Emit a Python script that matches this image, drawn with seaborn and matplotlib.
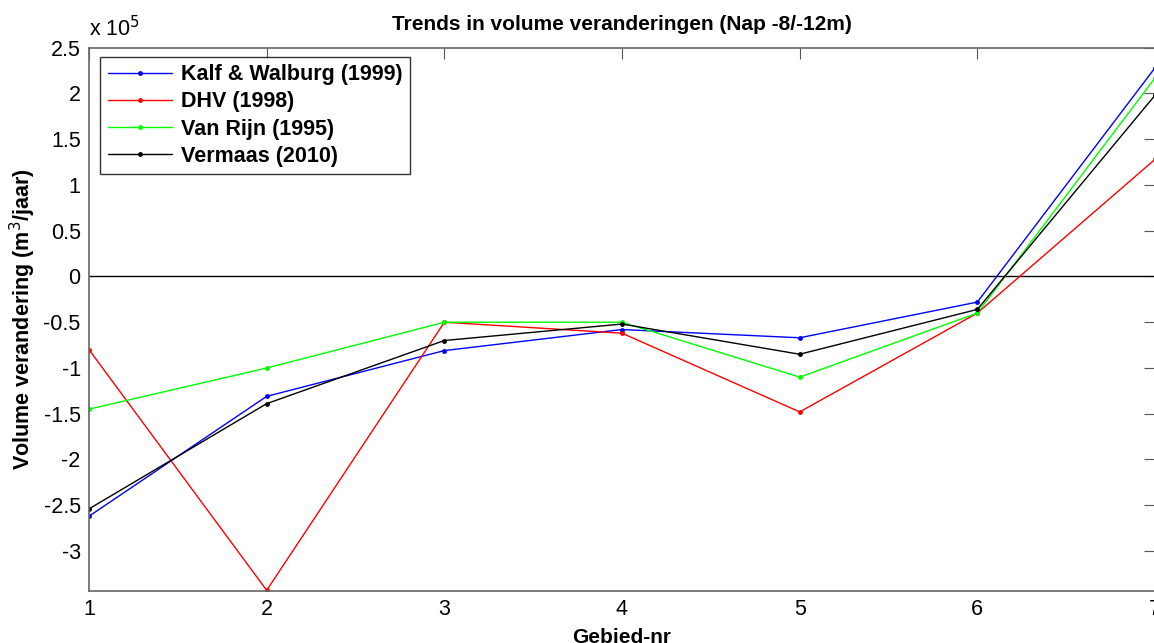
import matplotlib
matplotlib.use("Agg")
import matplotlib.pyplot as plt
import seaborn as sns
import pandas as pd
from matplotlib.ticker import FuncFormatter, FixedLocator

# Data (m3/jaar)
gebied = [1, 2, 3, 4, 5, 6, 7]
kalf_walburg = [-2.62e5, -1.31e5, -0.81e5, -0.58e5, -0.67e5, -0.28e5, 2.28e5]
dhv = [-0.80e5, -3.43e5, -0.50e5, -0.62e5, -1.48e5, -0.40e5, 1.28e5]
van_rijn = [-1.45e5, -1.00e5, -0.50e5, -0.50e5, -1.10e5, -0.40e5, 2.17e5]
vermaas = [-2.54e5, -1.39e5, -0.70e5, -0.52e5, -0.85e5, -0.36e5, 1.98e5]

series_names = ["Kalf & Walburg (1999)", "DHV (1998)", "Van Rijn (1995)", "Vermaas (2010)"]
series_colors = ["#0000ff", "#ff0000", "#00ff00", "#000000"]
y_ticks = [-3e5, -2.5e5, -2e5, -1.5e5, -1e5, -0.5e5, 0, 0.5e5, 1e5, 1.5e5, 2e5, 2.5e5]
x_ticks = [1, 2, 3, 4, 5, 6, 7]

rows = []
for name, vals in zip(series_names, [kalf_walburg, dhv, van_rijn, vermaas]):
    for g, v in zip(gebied, vals):
        rows.append({"Gebied": g, "Volume": v, "Bron": name})
df = pd.DataFrame(rows)

sns.set_theme(style="white")
plt.rcParams["font.family"] = ["Liberation Sans", "DejaVu Sans"]
plt.rcParams["text.color"] = "black"
plt.rcParams["axes.labelcolor"] = "black"

fig = plt.figure(figsize=(11.54, 6.43), dpi=100)
ax = fig.add_axes([89 / 1154, 1 - 590.7 / 643, 1066 / 1154, (590.7 - 47.7) / 643])

sns.lineplot(data=df, x="Gebied", y="Volume", hue="Bron", hue_order=series_names,
             palette=dict(zip(series_names, series_colors)), marker=".", markersize=7,
             markeredgewidth=0, linewidth=1.0, ax=ax, legend=True)

ax.axhline(0, color="black", linewidth=1.0, zorder=1)

ax.set_xlim(1, 7)
ax.set_ylim(-3.434e5, 2.5e5)
ax.xaxis.set_major_locator(FixedLocator(x_ticks))
ax.yaxis.set_major_locator(FixedLocator(y_ticks))
ax.yaxis.set_major_formatter(FuncFormatter(lambda v, p: f"{v / 1e5:g}"))
ax.tick_params(direction="in", length=8, width=0.8, top=True, right=True,
               labelsize=15.5, colors="#555555", labelcolor="black", pad=6)
for s in ax.spines.values():
    s.set_color("#666666")
    s.set_linewidth(1.2)

ax.set_xlabel("Gebied-nr", fontsize=15, fontweight="bold", labelpad=6, color="black")
ax.set_ylabel("Volume verandering (m$^3$/jaar)", fontsize=15.5, fontweight="bold", labelpad=4, color="black")
ax.set_title("Trends in volume veranderingen (Nap -8/-12m)", fontsize=15, fontweight="bold", pad=13, color="black")
ax.text(0.0, 1.012, "x 10$^5$", transform=ax.transAxes, fontsize=15.5, ha="left", va="bottom", color="black")

leg = ax.legend(loc="upper left", bbox_to_anchor=(0.0103, 0.983), borderaxespad=0,
                prop={"size": 15.5, "weight": "bold"}, frameon=True, fancybox=False,
                handlelength=3.0, handletextpad=0.4, labelspacing=0.28, borderpad=0.35)
leg.get_frame().set_edgecolor("black")
leg.get_frame().set_linewidth(1.0)
for t in leg.get_texts():
    t.set_color("black")
leg.set_title(None)

fig.savefig("out.png", dpi=100)
